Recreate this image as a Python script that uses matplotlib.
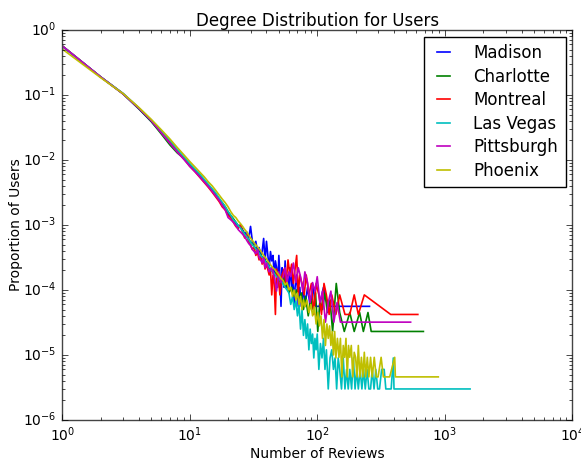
#Distribuicao de grau dos usuarios por cidade

import matplotlib
matplotlib.use('Agg')
import matplotlib.pyplot as plt

#Cidades e cores (estilo antigo do matplotlib)
cities = ['Madison', 'Charlotte', 'Montreal', 'Las Vegas', 'Pittsburgh', 'Phoenix']
colors = ['b', 'g', 'r', 'c', 'm', 'y']

#Madison
madison_k = [1, 2, 3, 4, 5, 6, 7, 8, 9, 10, 11, 12, 13, 14, 15, 16, 17, 18, 19, 20,
             21, 22, 23, 24, 25, 26, 27, 28, 29, 30, 31, 32, 33, 34, 35, 36, 37, 38, 39, 40,
             41, 42, 43, 44, 45, 46, 47, 48, 49, 50, 51, 52, 53, 54, 55, 56, 57, 58, 60, 61,
             63, 64, 66, 67, 69, 71, 73, 75, 78, 80, 84, 88, 93, 97, 104, 112, 121, 140, 175, 257]
madison_p = [0.56, 0.19, 0.104, 0.061, 0.039, 0.026, 0.0185, 0.0135, 0.0105, 0.0084,
             0.0069, 0.0057, 0.0047, 0.0040, 0.0034, 0.0029, 0.0024, 0.0021, 0.0018, 0.0015,
             1.3e-3, 1.2e-3, 1.05e-3, 9.5e-4, 1.0e-3, 8.4e-4, 7.3e-4, 7.8e-4, 6.2e-4, 9.5e-4,
             5.6e-4, 5.0e-4, 5.6e-4, 3.9e-4, 4.5e-4, 3.4e-4, 3.9e-4, 6.2e-4, 2.8e-4, 5.6e-4,
             3.4e-4, 2.2e-4, 3.9e-4, 2.8e-4, 3.4e-4, 1.7e-4, 2.8e-4, 2.2e-4, 1.1e-4, 3.4e-4,
             1.7e-4, 5.6e-5, 2.2e-4, 1.7e-4, 1.1e-4, 2.8e-4, 1.1e-4, 1.7e-4, 1.1e-4, 2.2e-4,
             1.1e-4, 1.7e-4, 5.6e-5, 1.1e-4, 1.7e-4, 5.6e-5, 1.1e-4, 5.6e-5, 1.1e-4, 5.6e-5,
             1.1e-4, 5.6e-5, 1.1e-4, 5.6e-5, 5.6e-5, 1.1e-4, 5.6e-5, 5.6e-5, 5.6e-5, 5.6e-5]

#Charlotte
charlotte_k = [1, 2, 3, 4, 5, 6, 7, 8, 9, 10, 11, 12, 13, 14, 15, 16, 17, 18, 19, 20,
               21, 22, 23, 24, 25, 26, 27, 28, 29, 30, 32, 34, 36, 38, 40, 42, 44, 46, 48, 50,
               52, 54, 56, 58, 60, 63, 66, 69, 72, 75, 78, 81, 85, 89, 93, 97, 101, 105, 110, 115,
               120, 126, 132, 141, 150, 163, 180, 195, 215, 230, 250, 265, 680]
charlotte_p = [0.57, 0.19, 0.104, 0.061, 0.039, 0.025, 0.017, 0.0128, 0.0106, 0.0086,
               0.0071, 0.0059, 0.0049, 0.0041, 0.0035, 0.0030, 0.0025, 0.0022, 0.0019, 0.0016,
               0.0014, 0.00125, 0.0011, 0.00098, 0.00092, 0.00082, 0.00072, 0.00066, 0.00060, 0.00055,
               0.00047, 0.00040, 0.00035, 0.00030, 0.00027, 0.00022, 0.00020, 0.00017, 0.00019, 0.00015,
               0.00013, 0.00016, 0.00011, 0.00013, 0.00009, 0.00011, 0.00008, 0.00010, 0.00007, 0.00009,
               0.00005, 0.00008, 0.00004, 0.00007, 0.00005, 0.00009, 0.000023, 0.00007, 0.00005, 0.00009,
               0.000045, 0.00007, 0.000023, 0.000126, 0.000045, 0.000023, 0.000045, 0.000023, 0.000045, 0.000023,
               0.000045, 0.000023, 0.000023]

#Montreal
montreal_k = [1, 2, 3, 4, 5, 6, 7, 8, 9, 10, 11, 12, 13, 14, 15, 16, 17, 18, 19, 20,
              21, 22, 23, 24, 25, 26, 27, 28, 29, 30, 31, 32, 33, 34, 35, 36, 37, 38, 39, 40,
              42, 43, 44, 45, 46, 47, 48, 50, 51, 53, 55, 57, 59, 61, 63, 65, 67, 69, 71, 73,
              76, 79, 82, 86, 90, 94, 98, 103, 108, 113, 118, 124, 130, 140, 150, 165, 180, 195, 210, 234,
              377, 615]
montreal_p = [0.57, 0.19, 0.105, 0.063, 0.041, 0.027, 0.019, 0.0138, 0.0105, 0.0080,
              0.0066, 0.0054, 0.0045, 0.0038, 0.0032, 0.0027, 0.0023, 0.0019, 0.0017, 0.0014,
              0.0013, 0.0011, 0.00095, 0.00088, 0.0010, 0.00076, 0.00063, 0.00071, 0.00055, 0.00050,
              0.00042, 0.00046, 0.00034, 0.00038, 0.00029, 0.00034, 0.00025, 0.00029, 0.00021, 0.00025,
              0.00017, 0.00021, 0.000084, 0.00017, 0.000126, 0.000042, 0.00021, 0.000126, 0.000084, 0.00017,
              0.00021, 0.000126, 0.00029, 0.00017, 0.00025, 0.000126, 0.00021, 0.00034, 0.000084, 0.00017,
              0.000126, 0.000084, 0.00017, 0.000084, 0.000126, 0.000042, 0.000126, 0.000084, 0.000042, 0.000126,
              0.000084, 0.000042, 0.000084, 0.000042, 0.000084, 0.000042, 0.000042, 0.000084, 0.000042, 0.000084,
              0.000042, 0.000042]

#Las Vegas
lasvegas_k = [1, 2, 3, 4, 5, 6, 7, 8, 9, 10, 11, 12, 13, 14, 15, 16, 17, 18, 19, 20,
              21, 22, 23, 24, 25, 26, 27, 28, 29, 30, 32, 34, 36, 38, 40, 42, 44, 46, 48, 50,
              53, 56, 58, 60, 62, 64, 66, 68, 70, 72, 74, 76, 78, 80, 82, 84, 86, 88, 90, 92,
              94, 96, 98, 100, 103, 106, 109, 112, 115, 118, 122, 126, 130, 134, 138, 142, 146, 150, 155, 160,
              165, 170, 175, 180, 186, 192, 198, 204, 210, 217, 224, 231, 238, 246, 254, 262, 270, 279, 288, 298,
              308, 320, 335, 345, 360, 380, 395, 400, 1580]
lasvegas_p = [0.57, 0.19, 0.106, 0.063, 0.041, 0.028, 0.020, 0.0145, 0.0112, 0.0088,
              0.0072, 0.0060, 0.0050, 0.0042, 0.0036, 0.0031, 0.0026, 0.0022, 0.0019, 0.0016,
              0.0014, 0.0012, 0.0011, 0.00098, 0.0009, 0.0008, 0.00072, 0.00066, 0.0006, 0.00054,
              0.00046, 0.0004, 0.00034, 0.0003, 0.00026, 0.00023, 0.0002, 0.00018, 0.00016, 0.00015,
              0.00013, 0.00011, 0.0001, 0.00009, 0.00006, 0.00008, 0.00005, 0.00007, 0.00004, 0.00006,
              0.000025, 0.00005, 0.00002, 0.000035, 0.000018, 0.00003, 0.000012, 0.000025, 0.000015, 0.000021,
              0.000009, 0.000018, 0.000012, 0.000021, 0.000006, 0.000015, 0.000009, 0.000018, 0.000006, 0.000012,
              0.000003, 0.000009, 0.000012, 0.000006, 0.000009, 0.000003, 0.000009, 0.000006, 0.000003, 0.000009,
              0.000003, 0.000006, 0.000003, 0.000006, 0.000003, 0.000009, 0.000003, 0.000006, 0.000003, 0.000006,
              0.000003, 0.000006, 0.000003, 0.000006, 0.000003, 0.000003, 0.000006, 0.000003, 0.000006, 0.000003,
              0.000003, 0.000006, 0.000006, 0.000003, 0.000003, 0.000003, 0.000009, 0.000003, 0.000003]

#Pittsburgh
pittsburgh_k = [1, 2, 3, 4, 5, 6, 7, 8, 9, 10, 11, 12, 13, 14, 15, 16, 17, 18, 19, 20,
                21, 22, 23, 24, 25, 26, 27, 28, 29, 30, 31, 32, 33, 34, 35, 36, 37, 38, 39, 40,
                42, 44, 46, 48, 50, 52, 54, 56, 58, 60, 62, 65, 68, 71, 74, 77, 80, 84, 88, 92,
                96, 100, 105, 110, 116, 122, 128, 135, 143, 152, 540]
pittsburgh_p = [0.57, 0.19, 0.104, 0.062, 0.040, 0.026, 0.018, 0.0132, 0.0102, 0.0080,
                0.0066, 0.0055, 0.0046, 0.0039, 0.0033, 0.0028, 0.0024, 0.0020, 0.0017, 0.0013,
                0.0012, 0.0011, 0.00098, 0.00085, 0.00078, 0.00072, 0.00066, 0.00058, 0.00052, 0.00048,
                0.00042, 0.00039, 0.00036, 0.00042, 0.00032, 0.00029, 0.00026, 0.00032, 0.00022, 0.00026,
                0.00019, 0.00022, 0.00016, 0.000096, 0.00019, 0.00013, 0.00016, 0.00022, 0.00013, 0.00019,
                0.00016, 0.00026, 0.00013, 0.00022, 0.00016, 0.000096, 0.00019, 0.00013, 0.000064, 0.00013,
                0.000096, 0.00016, 0.000064, 0.000096, 0.000032, 0.000064, 0.000096, 0.000032, 0.000064, 0.000032,
                0.000032]

#Phoenix
phoenix_k = [1, 2, 3, 4, 5, 6, 7, 8, 9, 10, 11, 12, 13, 14, 15, 16, 17, 18, 19, 20,
             21, 22, 23, 24, 25, 26, 27, 28, 29, 30, 32, 34, 36, 38, 40, 42, 44, 46, 48, 50,
             52, 54, 56, 58, 60, 62, 64, 66, 68, 70, 72, 74, 76, 78, 80, 83, 86, 89, 92, 95,
             98, 101, 104, 107, 110, 113, 116, 119, 122, 125, 128, 131, 134, 137, 140, 144, 148, 152, 156, 160,
             164, 168, 172, 176, 180, 185, 190, 195, 200, 205, 210, 216, 222, 228, 234, 240, 247, 254, 262, 270,
             280, 290, 300, 317, 330, 350, 370, 405, 410, 890]
phoenix_p = [0.51, 0.185, 0.105, 0.064, 0.042, 0.029, 0.021, 0.0155, 0.012, 0.0095,
             0.0078, 0.0065, 0.0055, 0.0046, 0.0040, 0.0034, 0.0029, 0.0025, 0.0022, 0.0019,
             0.0016, 0.0014, 0.0013, 0.00115, 0.00105, 0.00095, 0.00085, 0.00078, 0.0007, 0.00063,
             0.00053, 0.00046, 0.0004, 0.00034, 0.0003, 0.00026, 0.00023, 0.00021, 0.00019, 0.00017,
             0.00015, 0.00014, 0.00012, 0.00013, 0.0001, 0.00011, 0.00008, 0.0001, 0.00007, 0.00009,
             0.00006, 0.00008, 0.00005, 0.00007, 0.000055, 0.00007, 0.000045, 0.00006, 0.00004, 0.000055,
             0.00003, 0.000045, 0.000028, 0.00004, 0.000018, 0.000035, 0.000014, 0.00003, 0.000018, 0.000028,
             0.000014, 0.000023, 0.00001, 0.000023, 0.000009, 0.000018, 0.0000092, 0.000018, 0.0000046, 0.000014,
             0.0000092, 0.000018, 0.0000046, 0.000014, 0.0000092, 0.000014, 0.0000046, 0.000011, 0.0000092, 0.0000046,
             0.000014, 0.0000046, 0.0000092, 0.0000046, 0.000011, 0.0000046, 0.0000092, 0.0000046, 0.0000092, 0.0000046,
             0.0000092, 0.0000046, 0.0000046, 0.0000092, 0.0000046, 0.0000046, 0.0000046, 0.0000092, 0.0000046, 0.0000046]

degrees = [madison_k, charlotte_k, montreal_k, lasvegas_k, pittsburgh_k, phoenix_k]
props = [madison_p, charlotte_p, montreal_p, lasvegas_p, pittsburgh_p, phoenix_p]

#Estilo classico, mas com fundo branco
plt.style.use('classic')
plt.rcParams['figure.facecolor'] = 'white'
plt.rcParams['mathtext.fontset'] = 'dejavusans'

fig = plt.figure(figsize=(5.81, 4.61), dpi=100)
ax = fig.add_axes([0.107, 0.089, 0.878, 0.846])

#Uma linha por cidade
for k, p, name, c in zip(degrees, props, cities, colors):
    ax.plot(k, p, color=c, label=name, linewidth=1.2)

ax.set_xscale('log')
ax.set_yscale('log')
ax.set_xlim(1, 1e4)
ax.set_ylim(1e-6, 1)

#Titulos
ax.set_title("Degree Distribution for Users", fontsize=12, pad=3)
ax.set_xlabel("Number of Reviews", fontsize=10, labelpad=2)
ax.set_ylabel("Proportion of Users", fontsize=10, labelpad=0)
ax.tick_params(which='major', labelsize=10, pad=4)
for s in ax.spines.values():
    s.set_color('#444444')

ax.legend(loc='upper right', fontsize=12, handlelength=1.4, handletextpad=1.1,
          labelspacing=0.33, borderpad=0.45, borderaxespad=0.4)

fig.savefig('out.png', dpi=100, facecolor='white')
